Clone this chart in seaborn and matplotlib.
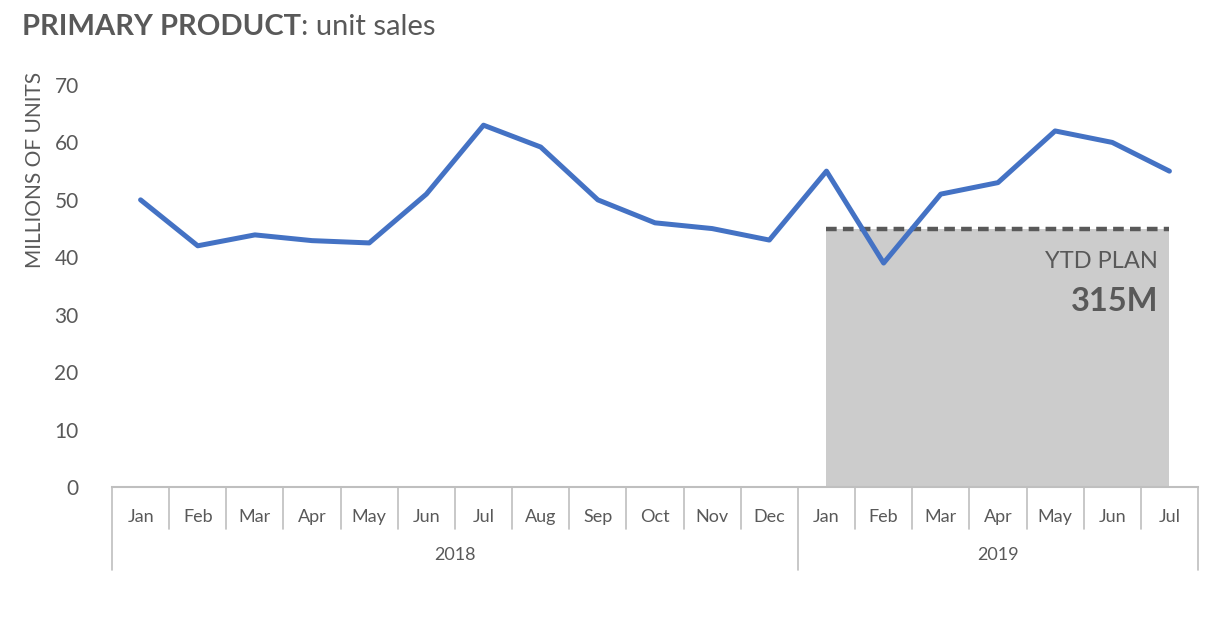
import numpy as np
import pandas as pd
import seaborn as sns
from matplotlib import pyplot as plt
from matplotlib import transforms

# data
months = ['Jan', 'Feb', 'Mar', 'Apr', 'May', 'Jun', 'Jul', 'Aug', 'Sep', 'Oct', 'Nov', 'Dec',
          'Jan', 'Feb', 'Mar', 'Apr', 'May', 'Jun', 'Jul']
years = ['2018'] * 12 + ['2019'] * 7
units = [50, 42, 43.9, 42.9, 42.5, 51, 63, 59.2, 50, 46, 45, 43,
         55, 39, 51, 53, 62, 60, 55]
plan_total = 315  # millions, YTD plan for 2019
plan_months = 7

TEXT = '#595959'
BLUE = '#4472C4'
GRID = '#BFBFBF'

sns.set_style('white')
plt.rcParams['font.family'] = ['Lato', 'DejaVu Sans']

df = pd.DataFrame({'idx': np.arange(len(units)), 'month': months, 'year': years, 'units': units})

fig = plt.figure(figsize=(12.2, 6.27), dpi=100)
ax = fig.add_axes([112 / 1220, 140 / 627, 1086 / 1220, 402 / 627])

# YTD plan block (2019 months)
plan = plan_total / plan_months
in_plan = df[df['year'] == '2019']
ax.fill_between(in_plan['idx'], 0, plan, color='#CCCCCC', lw=0, zorder=1)
ax.plot([in_plan['idx'].min(), in_plan['idx'].max()], [plan, plan], color=TEXT, lw=3.2,
        ls=(0, (2.4, 1.4)), zorder=2, solid_capstyle='butt')

sns.lineplot(data=df, x='idx', y='units', color=BLUE, lw=3.6, ax=ax, zorder=3)

ax.set_xlim(-0.5, len(units) - 0.5)
ax.set_ylim(0, 70)
ax.set_yticks(np.arange(0, 71, 10))
ax.set_xticks(df['idx'], months)
ax.tick_params(axis='y', length=0, pad=24, labelsize=15, labelcolor=TEXT)
ax.tick_params(axis='x', length=0, pad=16, labelsize=13, labelcolor=TEXT)
ax.set_xlabel('')
ax.set_ylabel('')
for s in ['top', 'right', 'left']:
    ax.spines[s].set_visible(False)
ax.spines['bottom'].set_color(GRID)
ax.spines['bottom'].set_linewidth(1.5)

# category dividers and year groups
trans = transforms.blended_transform_factory(ax.transData, ax.transAxes)
year_edges = [-0.5]
for i in range(1, len(years)):
    if years[i] != years[i - 1]:
        year_edges.append(i - 0.5)
year_edges.append(len(years) - 0.5)
for b in np.arange(-0.5, len(units), 1.0):
    bottom = -0.206 if b in year_edges else -0.1045
    ax.plot([b, b], [0, bottom], transform=trans, color=GRID, lw=1.2, clip_on=False)
for y in df['year'].unique():
    sub = df[df['year'] == y]
    ax.text(sub['idx'].mean(), -0.169, y, transform=trans, ha='center', va='center',
            fontsize=13, color=TEXT)

# plan annotation
ax.text(17.8, 39.3, 'YTD PLAN', ha='right', va='center', fontsize=17, color=TEXT)
ax.text(17.8, 32.3, f'{plan_total}M', ha='right', va='center', fontsize=23.5,
        fontweight='bold', color=TEXT)

fig.text(35 / 1220, 1 - 72 / 627, 'MILLIONS OF UNITS', rotation=90, ha='center', va='top',
         fontsize=15, color=TEXT)

t1 = fig.text(22 / 1220, 1 - 27 / 627, 'PRIMARY PRODUCT', ha='left', va='center',
              fontsize=21, fontweight='bold', color=TEXT)
fig.canvas.draw()
bb = t1.get_window_extent()
fig.text(bb.x1 / 1220, 1 - 27 / 627, ': unit sales', ha='left', va='center',
         fontsize=21, color=TEXT)

fig.savefig('out.png', dpi=100)
